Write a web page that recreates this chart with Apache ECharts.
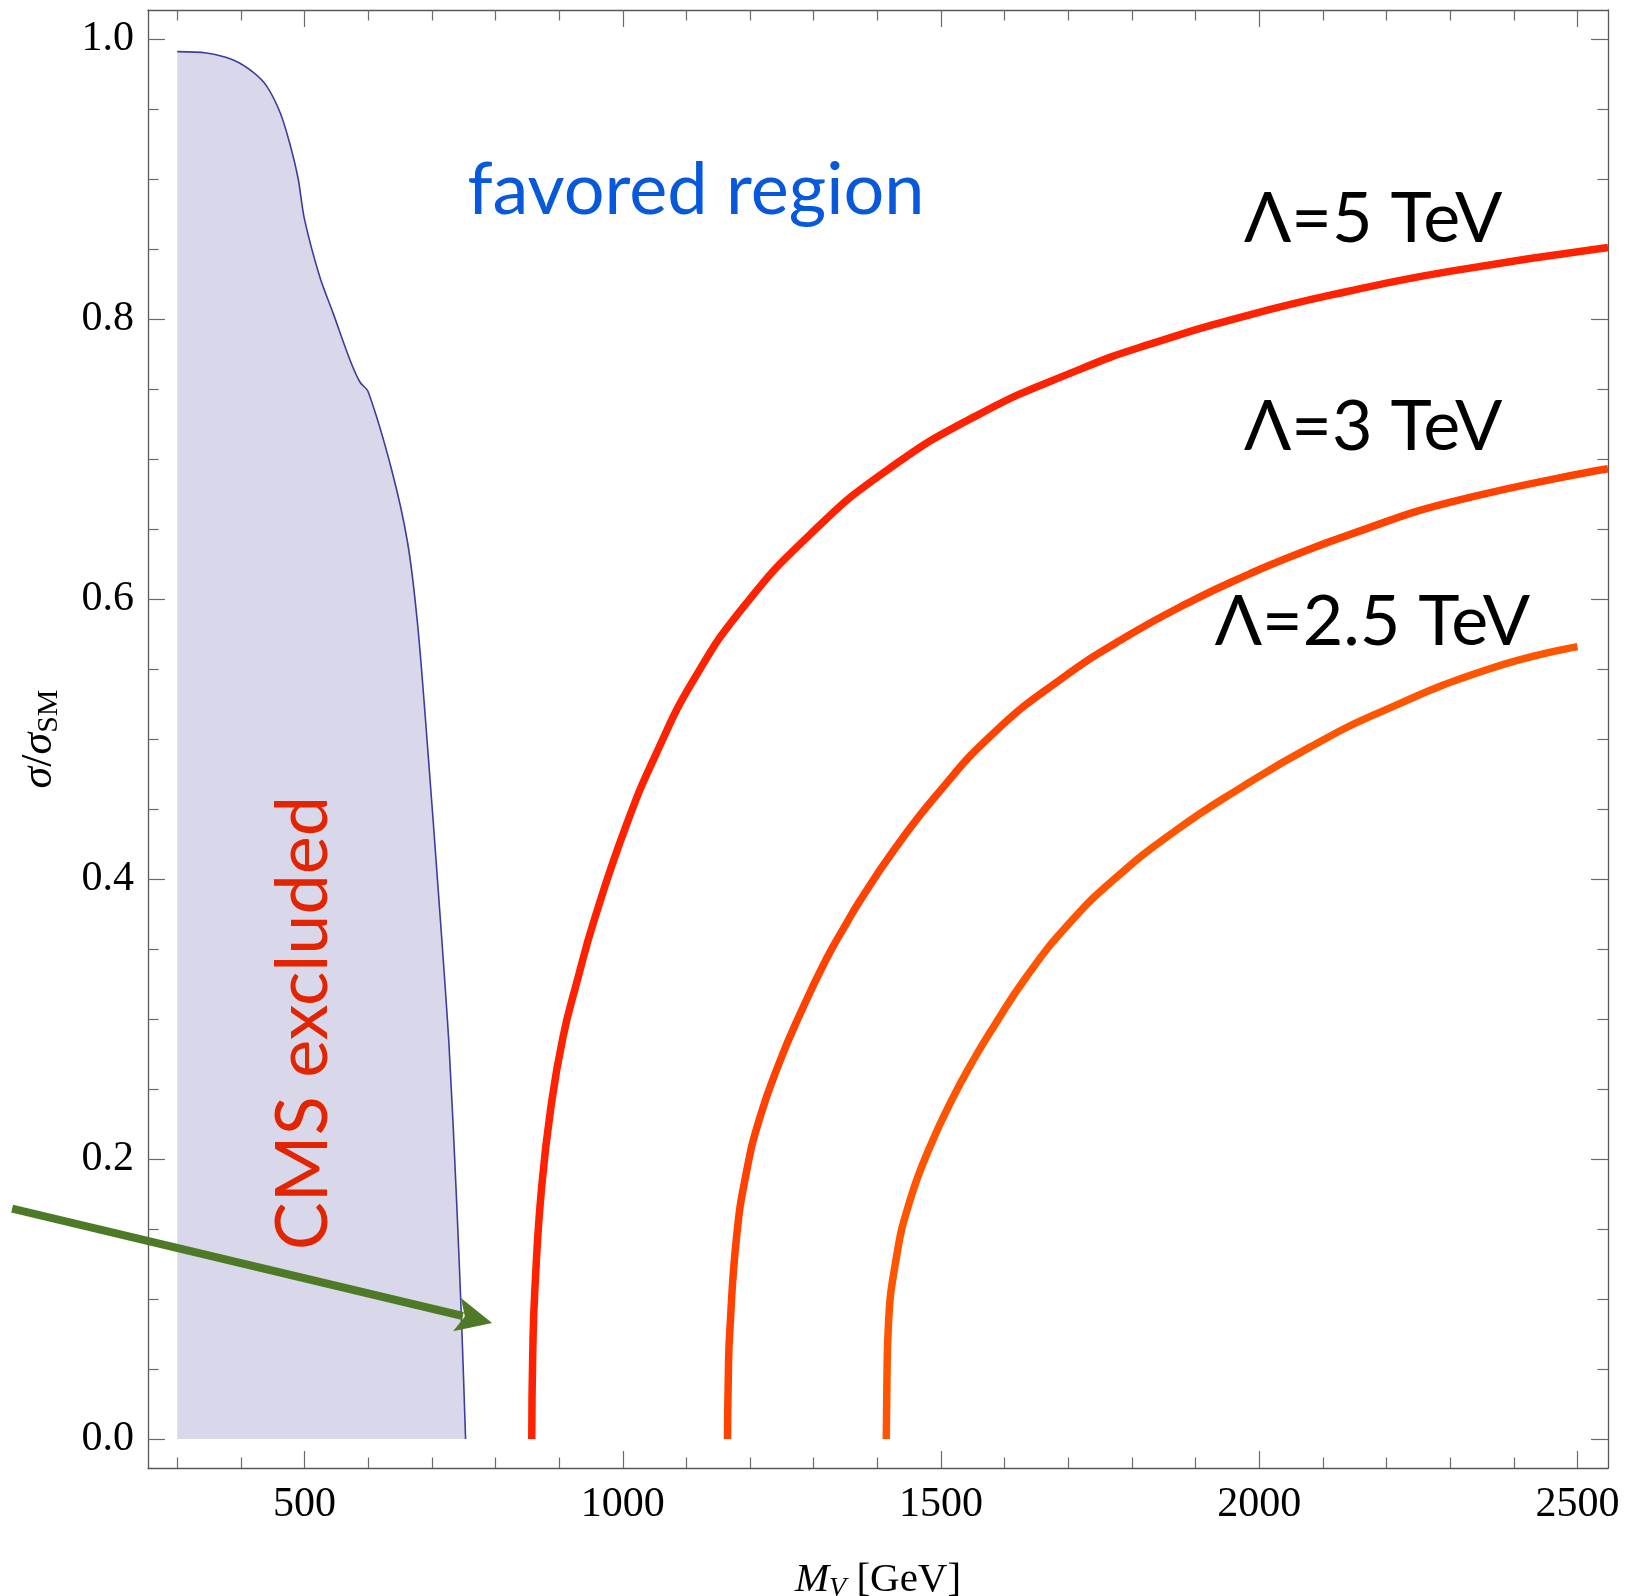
<!DOCTYPE html>
<html>
<head>
<meta charset="utf-8">
<script src="https://cdn.jsdelivr.net/npm/echarts@6/dist/echarts.min.js"></script>
<style>
  html, body { margin: 0; padding: 0; background: #ffffff; overflow: hidden; }
  #chart { width: 1638px; height: 1596px; }
</style>
</head>
<body>
<div id="chart"></div>
<script>
// Tick positions
const xMajorTicks = [500, 1000, 1500, 2000, 2500];
const xMinorTicks = [300, 400, 600, 700, 800, 900, 1100, 1200, 1300, 1400,
                     1600, 1700, 1800, 1900, 2100, 2200, 2300, 2400];
const yMajorTicks = [0, 0.2, 0.4, 0.6, 0.8, 1.0];
const yMinorTicks = [0.05, 0.1, 0.15, 0.25, 0.3, 0.35, 0.45, 0.5, 0.55,
                     0.65, 0.7, 0.75, 0.85, 0.9, 0.95];

// CMS exclusion boundary: [M_V (GeV), sigma/sigma_SM]
const cmsBoundary = [
  [300, 0.991], [346, 0.990], [388, 0.985], [420, 0.976], [441, 0.966],
  [462, 0.947], [477, 0.925], [490, 0.900], [500, 0.871], [524, 0.830],
  [545, 0.804], [572, 0.770], [587, 0.755], [600, 0.748], [637, 0.692],
  [662, 0.640], [678, 0.580], [694, 0.490], [711, 0.386], [727, 0.281],
  [739, 0.169], [747, 0.080], [753, 0.0]
];

// Lambda = 5 TeV
const lambda5TeV = [
  [857, 0.0], [858.5, 0.061], [862, 0.108], [872.5, 0.180], [888, 0.240],
  [906, 0.287], [927, 0.325], [956, 0.372], [1006, 0.439], [1053, 0.490],
  [1111, 0.542], [1189, 0.594], [1294, 0.646], [1409, 0.690], [1556, 0.731],
  [1718, 0.764], [1828, 0.782], [1985, 0.803], [2142, 0.820], [2299, 0.834],
  [2548, 0.851]
];

// Lambda = 3 TeV
const lambda3TeV = [
  [1164.5, 0.0], [1166, 0.050], [1168, 0.076], [1178.7, 0.144], [1194, 0.190],
  [1215, 0.229], [1247, 0.270], [1278, 0.303], [1320, 0.343], [1351, 0.368],
  [1372, 0.384], [1425, 0.420], [1493, 0.460], [1582, 0.504], [1686, 0.542],
  [1791, 0.573], [1896, 0.599], [1985, 0.618], [2042, 0.629], [2142, 0.646],
  [2299, 0.669], [2548, 0.693]
];

// Lambda = 2.5 TeV
const lambda25TeV = [
  [1414, 0.0], [1415, 0.040], [1417, 0.078], [1430, 0.130], [1451, 0.170],
  [1482, 0.208], [1519, 0.244], [1550, 0.270], [1582, 0.294], [1634, 0.330],
  [1697, 0.366], [1770, 0.399], [1870, 0.435], [1974, 0.466], [2079, 0.494],
  [2189, 0.519], [2361, 0.550], [2500, 0.566]
];

const curveLabels = ['\u039B=5 TeV', '\u039B=3 TeV', '\u039B=2.5 TeV'];

// Annotation anchors in data units
const notePlace = {
  favored: [1115, 0.8915],
  lam5: [2179, 0.8710],
  lam3: [2179, 0.7229],
  lam25: [2178, 0.5835],
  cms: [498.5, 0.2971],
  arrowFrom: [40.5, 0.1645],
  arrowTo: [794.6, 0.0829]
};

const serif = '"Liberation Serif", "Times New Roman", serif';
const sans = 'Lato, "Noto Sans", "DejaVu Sans", sans-serif';
const frameColor = '#585858';
const tickColor = '#6a6a6a';

const X_MIN = 254, X_MAX = 2548, Y_MIN = -0.0207, Y_MAX = 1.0207;

function xAxisDef(position, ticks, len, withLine, withLabels) {
  return {
    type: 'value', gridIndex: 0, position: position,
    min: X_MIN, max: X_MAX,
    axisLine: { show: withLine, onZero: false, lineStyle: { color: frameColor, width: 1.3 } },
    axisTick: { show: true, inside: true, length: len, customValues: ticks,
                lineStyle: { color: tickColor, width: 1.2 } },
    axisLabel: withLabels ? {
      show: true, customValues: ticks, margin: 16,
      fontFamily: serif, fontSize: 42, color: '#000',
      formatter: v => String(Math.round(v))
    } : { show: false },
    splitLine: { show: false }
  };
}

function yAxisDef(position, ticks, len, withLine, withLabels) {
  return {
    type: 'value', gridIndex: 0, position: position,
    min: Y_MIN, max: Y_MAX,
    axisLine: { show: withLine, onZero: false, lineStyle: { color: frameColor, width: 1.3 } },
    axisTick: { show: true, inside: true, length: len, customValues: ticks,
                lineStyle: { color: tickColor, width: 1.2 } },
    axisLabel: withLabels ? {
      show: true, customValues: ticks, margin: 14,
      fontFamily: serif, fontSize: 42, color: '#000',
      formatter: v => v.toFixed(1)
    } : { show: false },
    splitLine: { show: false }
  };
}

const xMain = xAxisDef('bottom', xMajorTicks, 17, true, true);
xMain.name = '{i|M}{s|V} [GeV]';
xMain.nameLocation = 'middle';
xMain.nameGap = 89;
xMain.nameTextStyle = {
  fontFamily: serif, fontSize: 41, color: '#000', lineHeight: 46,
  rich: {
    i: { fontFamily: serif, fontSize: 41, fontStyle: 'italic', color: '#000', lineHeight: 46 },
    s: { fontFamily: serif, fontSize: 28, fontStyle: 'italic', color: '#000', verticalAlign: 'bottom' }
  }
};

const yMain = yAxisDef('left', yMajorTicks, 17, true, true);
yMain.name = '{i|\u03C3}/{i|\u03C3}{s|SM}';
yMain.nameLocation = 'middle';
yMain.nameRotate = 90;
yMain.nameGap = 84;
yMain.nameTextStyle = {
  fontFamily: serif, fontSize: 44, color: '#000', lineHeight: 50,
  rich: {
    i: { fontFamily: serif, fontSize: 44, fontStyle: 'italic', color: '#000', lineHeight: 50 },
    s: { fontFamily: serif, fontSize: 30, color: '#000', verticalAlign: 'bottom' }
  }
};

const chart = echarts.init(document.getElementById('chart'), null,
                           { renderer: 'canvas', width: 1638, height: 1596 });

const redCurve = (name, data, color) => ({
  name: name, type: 'line', data: data,
  xAxisIndex: 0, yAxisIndex: 0, showSymbol: false, smooth: 0.5,
  lineStyle: { color: color, width: 7.5, cap: 'butt' }, z: 3
});

chart.setOption({
  animation: false,
  backgroundColor: '#ffffff',
  grid: { left: 148, right: 30, top: 10, bottom: 128,
          containLabel: false, outerBoundsMode: 'none' },
  xAxis: [
    xMain,
    xAxisDef('bottom', xMinorTicks, 10.5, false, false),
    xAxisDef('top', xMajorTicks, 17, true, false),
    xAxisDef('top', xMinorTicks, 10.5, false, false)
  ],
  yAxis: [
    yMain,
    yAxisDef('left', yMinorTicks, 10.5, false, false),
    yAxisDef('right', yMajorTicks, 17, true, false),
    yAxisDef('right', yMinorTicks, 10.5, false, false)
  ],
  series: [
    {
      name: 'CMS excluded', type: 'line', data: cmsBoundary,
      xAxisIndex: 0, yAxisIndex: 0, showSymbol: false, smooth: 0.3,
      lineStyle: { color: '#3d3d9e', width: 1.6 },
      areaStyle: { color: '#d8d8ea', opacity: 1, origin: 0 },
      z: 2
    },
    redCurve(curveLabels[0], lambda5TeV, '#ff2200'),
    redCurve(curveLabels[1], lambda3TeV, '#ff4200'),
    redCurve(curveLabels[2], lambda25TeV, '#ff5500')
  ]
});

// Text annotations and the pointer arrow, placed from data coordinates
const toPx = p => chart.convertToPixel({ xAxisIndex: 0, yAxisIndex: 0 }, p);

const pFav = toPx(notePlace.favored);
const p5 = toPx(notePlace.lam5);
const p3 = toPx(notePlace.lam3);
const p25 = toPx(notePlace.lam25);
const pCms = toPx(notePlace.cms);
const aFrom = toPx(notePlace.arrowFrom);
const aTo = toPx(notePlace.arrowTo);

const dx = aTo[0] - aFrom[0], dy = aTo[1] - aFrom[1];
const dl = Math.hypot(dx, dy);
const ux = dx / dl, uy = dy / dl, nx = -uy, ny = ux;
const headLen = 36, headHalf = 17, notch = 28;
const headBack = [aTo[0] - ux * headLen, aTo[1] - uy * headLen];

function label(p, text, color, size, rot) {
  return {
    type: 'text', x: p[0], y: p[1], rotation: rot || 0, z: 10,
    style: {
      text: text, fill: color, fontFamily: sans, fontSize: size,
      align: 'center', verticalAlign: 'middle'
    }
  };
}

chart.setOption({
  graphic: [
    label(pFav, 'favored region', '#0758db', 72, 0),
    label(p5, curveLabels[0], '#000000', 70, 0),
    label(p3, curveLabels[1], '#000000', 70, 0),
    label(p25, curveLabels[2], '#000000', 70, 0),
    label(pCms, 'CMS excluded', '#e32400', 72, Math.PI / 2),
    {
      type: 'polyline', z: 11,
      shape: { points: [aFrom, [aTo[0] - ux * (notch + 2), aTo[1] - uy * (notch + 2)]] },
      style: { stroke: '#4e7a28', lineWidth: 8, lineCap: 'butt', fill: null }
    },
    {
      type: 'polygon', z: 11,
      shape: { points: [
        aTo,
        [headBack[0] + nx * headHalf, headBack[1] + ny * headHalf],
        [aTo[0] - ux * notch, aTo[1] - uy * notch],
        [headBack[0] - nx * headHalf, headBack[1] - ny * headHalf]
      ] },
      style: { fill: '#4e7a28' }
    }
  ]
});
</script>
</body>
</html>
